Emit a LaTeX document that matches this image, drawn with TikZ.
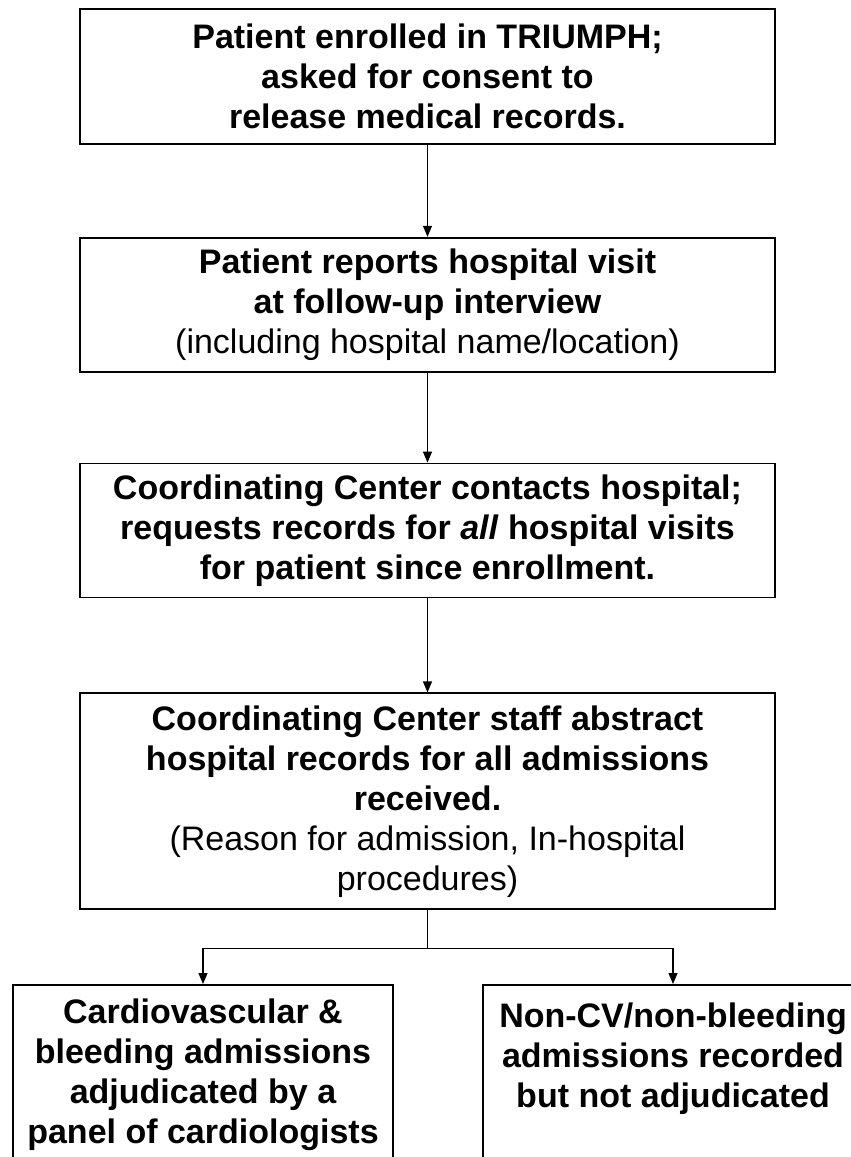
\documentclass[tikz,border=0pt]{standalone}
\usepackage{fontspec}
\setmainfont{Liberation Sans}
\usepackage{tikz}
\usetikzlibrary{arrows.meta,positioning}

\begin{document}
\begin{tikzpicture}[x=1pt,y=1pt,node distance=92pt,
        box/.style={draw, line width=1.8pt, align=center, minimum width=695pt,
            font=\fontsize{34}{40}\selectfont\bfseries},
        leaf/.style={box, minimum width=380pt, minimum height=180pt},
        arr/.style={-{Triangle[length=11pt,width=9pt]}, line width=1.2pt}]
        \useasboundingbox (0,0) rectangle (851,-1157);
        \fill[white] (0,0) rectangle (851,-1157);

        \node[box, minimum height=135pt, anchor=north] (enrol) at (427.5,-8)
            {Patient enrolled in TRIUMPH;\\ asked for consent to\\ release medical records.};
        \node[box, minimum height=134pt, below=of enrol] (report)
            {Patient reports hospital visit\\ at follow-up interview\\
             \mdseries(including hospital name/location)};
        \node[box, minimum height=134pt, below=90pt of report] (contact)
            {Coordinating Center contacts hospital;\\
             requests records for \textit{all} hospital visits\\ for patient since enrollment.};
        \node[box, minimum height=216pt, below=94pt of contact] (abstract)
            {Coordinating Center staff abstract\\ hospital records for all admissions\\ received.\\
             \mdseries(Reason for admission, In-hospital\\ \mdseries procedures)};
        \node[leaf, anchor=north] (cv) at (203,-984)
            {Cardiovascular \&\\ bleeding admissions\\ adjudicated by a\\ panel of cardiologists};
        \node[leaf, anchor=north] (noncv) at (673,-984)
            {Non-CV/non-bleeding\\ admissions recorded\\ but not adjudicated\\ \mbox{}};

        \draw[arr] (enrol) -- (report);
        \draw[arr] (report) -- (contact);
        \draw[arr] (contact) -- (abstract);
        \draw[arr] (abstract.south) -- ++(0,-38) -| (cv.north);
        \draw[arr] (abstract.south) -- ++(0,-38) -| (noncv.north);
\end{tikzpicture}
\end{document}
